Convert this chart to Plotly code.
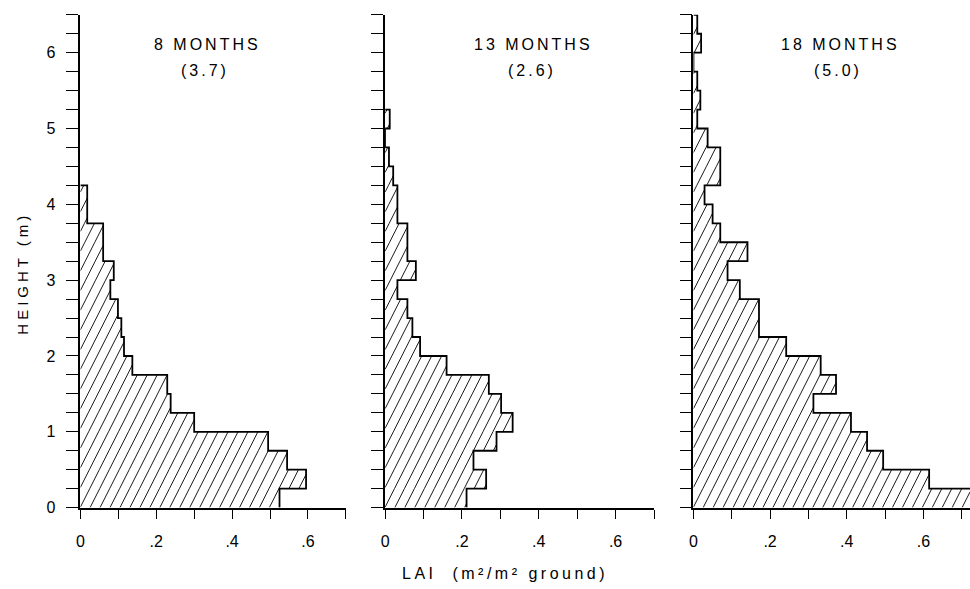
import numpy as np
import plotly.graph_objects as go

# Canopy layers: bottom edge of each 0.25 m height class (m)
layer_bottom = [0.0, 0.25, 0.5, 0.75, 1.0, 1.25, 1.5, 1.75, 2.0, 2.25, 2.5, 2.75, 3.0,
                3.25, 3.5, 3.75, 4.0, 4.25, 4.5, 4.75, 5.0, 5.25, 5.5, 5.75, 6.0, 6.25]
layer_thickness = 0.25

# Leaf area index contributed by each layer (m2 leaf / m2 ground)
lai_8mo = [0.525, 0.595, 0.545, 0.495, 0.300, 0.238, 0.229, 0.137, 0.115, 0.108, 0.099, 0.079, 0.088,
           0.060, 0.060, 0.018, 0.018, 0.0, 0.0, 0.0, 0.0, 0.0, 0.0, 0.0, 0.0, 0.0]
lai_13mo = [0.212, 0.263, 0.230, 0.290, 0.332, 0.302, 0.270, 0.160, 0.091, 0.071, 0.058, 0.032, 0.080,
            0.058, 0.058, 0.032, 0.032, 0.021, 0.010, 0.0, 0.012, 0.0, 0.0, 0.0, 0.0, 0.0]
lai_18mo = [0.725, 0.615, 0.495, 0.453, 0.411, 0.313, 0.372, 0.332, 0.242, 0.171, 0.171, 0.121, 0.089,
            0.141, 0.070, 0.050, 0.029, 0.070, 0.070, 0.037, 0.010, 0.018, 0.010, 0.0, 0.020, 0.010]

panel_titles = ["8 MONTHS", "13 MONTHS", "18 MONTHS"]
panel_totals = ["(3.7)", "(2.6)", "(5.0)"]

height_tick_vals = [0, 1, 2, 3, 4, 5, 6]
height_tick_labels = ["0", "1", "2", "3", "4", "5", "6"]
lai_tick_vals = [0.0, 0.2, 0.4, 0.6]
lai_tick_labels = ["0", ".2", ".4", ".6"]

W, H = 970, 589
FONT = "Liberation Sans"

# plot-area placement (pixels) of each panel: left edge, right edge, x-range end
panels_px = [(76.7, 343.3, 0.7), (382.7, 652.7, 0.7), (692.3, 970.0, 0.7216)]
y_bottom_px, y_top_px = 515.5, 15.0
y_max = 6.5

series = [lai_8mo, lai_13mo, lai_18mo]

fig = go.Figure()


def hatch_segments(values, sx, sy, xmax, slope=2.0, spacing=10.0):
    """Diagonal hatch lines clipped to the stepped profile (data coordinates)."""
    xs, ys = [], []
    top_px = y_max * sy
    for c in np.arange(-top_px / slope, xmax * sx + spacing, spacing):
        for lo, v in zip(layer_bottom, values):
            if v <= 0:
                continue
            hi = lo + layer_thickness
            x_lo = c + lo * sy / slope
            x_hi = c + hi * sy / slope
            a = max(x_lo, 0.0)
            b = min(x_hi, min(v, xmax) * sx)
            if a < b:
                xs += [a / sx, b / sx, None]
                ys += [slope * (a - c) / sy, slope * (b - c) / sy, None]
    return xs, ys


def outline(values):
    nz = [i for i, v in enumerate(values) if v > 0]
    last = nz[-1]
    xs, ys = [], []
    for i in range(last + 1):
        lo = layer_bottom[i]
        xs += [values[i], values[i]]
        ys += [lo, lo + layer_thickness]
    xs.append(0.0)
    ys.append(layer_bottom[last] + layer_thickness)
    return xs, ys


tick_font = dict(family=FONT, size=16, color="black")
layout_axes = {}
for k, (vals, (left, right, xmax)) in enumerate(zip(series, panels_px)):
    n = "" if k == 0 else str(k + 1)
    xa, ya = "x" + n, "y" + n
    centers = [b + layer_thickness / 2 for b in layer_bottom]

    fig.add_trace(go.Bar(
        x=vals, y=centers, orientation="h", width=layer_thickness,
        marker=dict(color="white", line=dict(width=0)),
        xaxis=xa, yaxis=ya, showlegend=False, name=panel_titles[k],
    ))

    sx = (right - left) / xmax
    sy = (y_bottom_px - y_top_px) / y_max
    hx, hy = hatch_segments(vals, sx, sy, xmax)
    fig.add_trace(go.Scatter(
        x=hx, y=hy, mode="lines", line=dict(color="#1a1a1a", width=1),
        xaxis=xa, yaxis=ya, showlegend=False, hoverinfo="skip",
    ))

    ox, oy = outline(vals)
    fig.add_trace(go.Scatter(
        x=ox, y=oy, mode="lines", line=dict(color="black", width=1.8),
        xaxis=xa, yaxis=ya, showlegend=False, hoverinfo="skip",
    ))

    layout_axes["xaxis" + n] = dict(
        domain=[left / W, right / W], range=[0, xmax], anchor=ya,
        showline=True, linecolor="black", linewidth=1.8,
        ticks="outside", ticklen=9, tickwidth=1.4, tickcolor="black",
        tickmode="array", tickvals=lai_tick_vals, ticktext=lai_tick_labels,
        minor=dict(tickmode="linear", tick0=0, dtick=0.1, ticks="outside",
                   ticklen=9, tickwidth=1.4, tickcolor="black", showgrid=False),
        tickfont=tick_font, ticklabelstandoff=9,
        showgrid=False, zeroline=False, fixedrange=True,
    )
    layout_axes["yaxis" + n] = dict(
        domain=[1 - y_bottom_px / H, 1 - y_top_px / H], range=[0, y_max], anchor=xa,
        showline=True, linecolor="black", linewidth=1.8,
        ticks="outside", ticklen=12, tickwidth=1.4, tickcolor="black",
        tickmode="array", tickvals=height_tick_vals, ticktext=height_tick_labels,
        minor=dict(tickmode="linear", tick0=0, dtick=0.25, ticks="outside",
                   ticklen=12, tickwidth=1.4, tickcolor="black", showgrid=False),
        showticklabels=(k == 0),
        tickfont=tick_font, ticklabelstandoff=8,
        showgrid=False, zeroline=False, fixedrange=True,
    )

annotations = []
title_x = [204, 531.7, 839.5]
for k in range(3):
    annotations.append(dict(
        x=title_x[k] / W, y=1 - 45 / H, xref="paper", yref="paper",
        text='<span style="letter-spacing:3px">' + panel_titles[k] + "</span>",
        showarrow=False, xanchor="center", yanchor="middle",
        font=dict(family=FONT, size=16, color="black"),
    ))
    annotations.append(dict(
        x=(title_x[k] - 2) / W, y=1 - 72 / H, xref="paper", yref="paper",
        text='<span style="letter-spacing:3px">' + panel_totals[k] + "</span>",
        showarrow=False, xanchor="center", yanchor="middle",
        font=dict(family=FONT, size=16, color="black"),
    ))

annotations.append(dict(
    x=19 / W, y=1 - 277 / H, xref="paper", yref="paper",
    text='<span style="letter-spacing:4px">HEIGHT (m)</span>',
    textangle=-90, showarrow=False, xanchor="center", yanchor="middle",
    font=dict(family=FONT, size=15, color="black"),
))
annotations.append(dict(
    x=503 / W, y=1 - 582 / H, xref="paper", yref="paper",
    text='<span style="letter-spacing:3.5px">LAI\u00a0\u00a0(m\u00b2/m\u00b2 ground)</span>',
    showarrow=False, xanchor="center", yanchor="middle",
    font=dict(family=FONT, size=16, color="black"),
))

fig.update_layout(
    width=W, height=H,
    margin=dict(l=0, r=0, t=0, b=0),
    paper_bgcolor="white", plot_bgcolor="white",
    bargap=0, barmode="overlay",
    annotations=annotations,
    **layout_axes,
)

fig.write_html("out.html")
